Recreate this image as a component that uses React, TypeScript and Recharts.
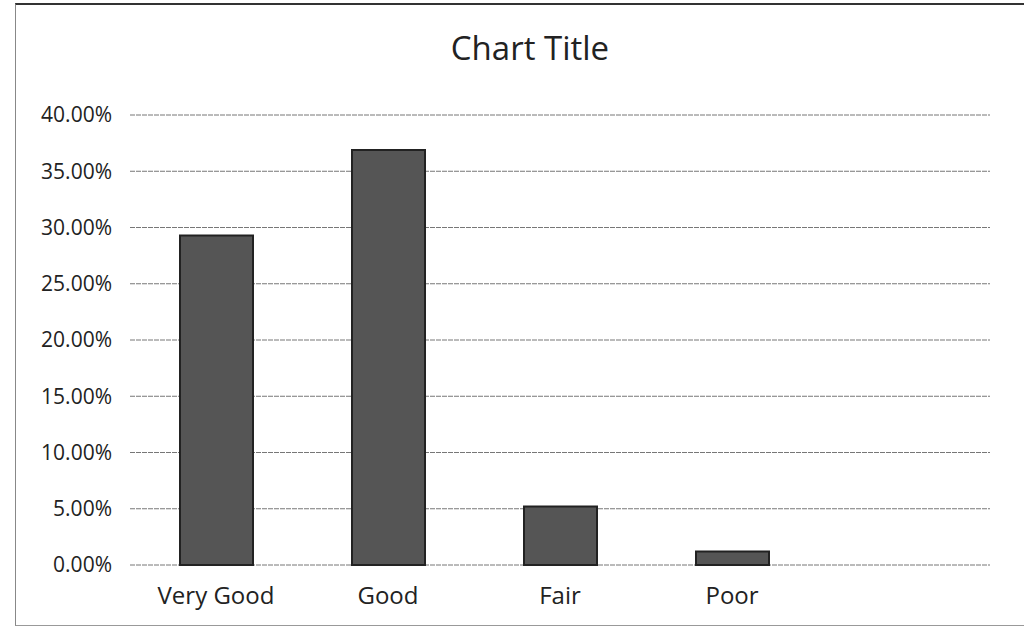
import React from "react";
import { BarChart, Bar, XAxis, YAxis, CartesianGrid } from "recharts";

// the last, blank category leaves the empty space on the right as in the original
const categories = ["Very Good", "Good", "Fair", "Poor", ""];
const shares = [29.3, 36.9, 5.2, 1.2, null];
const yTicks = [0, 5, 10, 15, 20, 25, 30, 35, 40];

const data = categories.map((name, i) => ({ name, value: shares[i] }));

const FONT = "'Open Sans', 'Noto Sans', sans-serif";

export default function App() {
  return (
    <div
      style={{
        position: "fixed",
        left: 0,
        top: 0,
        width: 1027,
        height: 641,
        background: "#fff",
        fontFamily: FONT,
      }}
    >
      <div
        style={{
          position: "absolute",
          left: 15,
          top: 3,
          width: 1008,
          height: 620,
          borderLeft: "1px solid #888",
          borderTop: "2px solid #333",
          borderBottom: "1px solid #999",
        }}
      />
      <div
        style={{
          position: "absolute",
          left: 0,
          top: 25,
          width: 1060,
          textAlign: "center",
          fontSize: 33,
          color: "#222",
        }}
      >
        Chart Title
      </div>
      <div style={{ position: "absolute", left: 0, top: 0 }}>
        <BarChart
          width={1027}
          height={641}
          data={data}
          margin={{ top: 115, right: 37, bottom: 36, left: 0 }}
        >
          <CartesianGrid vertical={false} stroke="#777" strokeDasharray="5 1" />
          <XAxis
            dataKey="name"
            axisLine={false}
            tickLine={false}
            height={40}
            tickMargin={16}
            tick={{ fontSize: 24, fill: "#222", fontFamily: FONT }}
          />
          <YAxis
            width={130}
            domain={[0, 40]}
            ticks={yTicks}
            axisLine={false}
            tickLine={false}
            tickMargin={12}
            tickFormatter={(v: number) => `${v.toFixed(2)}%`}
            tick={{ fontSize: 21, fill: "#222", fontFamily: FONT }}
          />
          <Bar
            dataKey="value"
            fill="#555"
            stroke="#222"
            strokeWidth={2}
            barSize={73}
            isAnimationActive={false}
          />
        </BarChart>
      </div>
    </div>
  );
}
